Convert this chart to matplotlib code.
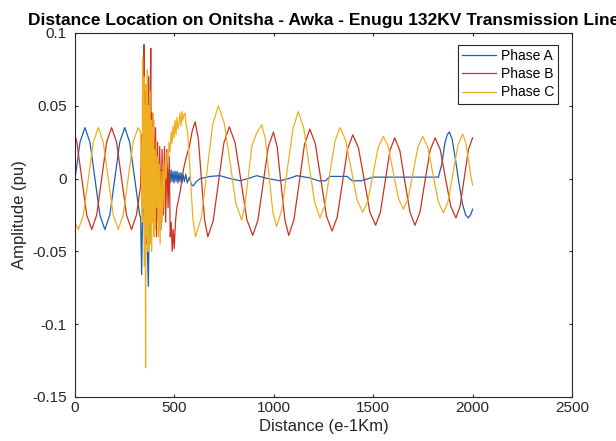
import matplotlib
matplotlib.use("Agg")
import matplotlib.pyplot as plt

plt.rcParams['font.family'] = ['Liberation Sans', 'DejaVu Sans']

# Phase A
dist_a = [0, 25, 50, 75, 100, 125, 150, 175, 200, 225, 250, 275, 300, 325,
          330, 335, 340, 345, 350, 355, 360, 364, 369, 374, 378, 383, 388, 393, 398, 403,
          408, 413, 418, 423, 428, 433, 438, 443, 448, 453, 458, 463, 468, 473, 478, 483,
          488, 493, 498, 503, 508, 513, 518, 523, 528, 533, 538, 543, 550, 557, 565, 575,
          585, 595, 610,
          630, 680, 729, 780, 830, 870, 914, 970, 1031, 1075, 1115, 1180, 1225, 1260, 1283,
          1368, 1395, 1440, 1500, 1828, 1845, 1860, 1872, 1883, 1897, 1915, 1930, 1950,
          1965, 1979, 1993, 2000]
amp_a = [0.000, 0.025, 0.035, 0.025, 0.000, -0.025, -0.035, -0.025, 0.000, 0.025, 0.035, 0.025, 0.000, -0.025,
         -0.027, -0.066, -0.020, 0.005, -0.045, -0.010, 0.010, -0.050, -0.074, -0.010, 0.004, -0.025, -0.030, 0.000, 0.008, -0.018,
         -0.012, 0.006, -0.008, 0.005, -0.006, 0.006, -0.004, 0.007, -0.003, 0.006, -0.004, 0.007, -0.002, 0.006, -0.003, 0.006,
         -0.002, 0.005, -0.003, 0.005, -0.002, 0.005, -0.003, 0.004, -0.002, 0.004, -0.003, 0.003, -0.002, 0.003, -0.003, 0.001,
         -0.004, -0.005, -0.002,
         0.000, 0.0015, 0.002, 0.000, -0.0015, 0.000, 0.002, 0.000, -0.0015, 0.000, 0.002, 0.0005, -0.0015, -0.0015, 0.0015,
         0.0015, -0.0015, -0.0015, 0.001, 0.001, 0.010, 0.024, 0.030, 0.032, 0.027, 0.012, -0.002, -0.018,
         -0.025, -0.027, -0.024, -0.021]

# Phase B
dist_b = [0, 9, 34, 59, 84, 109, 134, 159, 184, 209, 234, 259, 284, 309, 330,
          335, 339, 343, 347, 350, 354, 358, 362, 366, 370, 374, 378, 381, 384, 388, 392,
          396, 400, 405, 410, 415, 420, 426, 432, 438, 444, 450, 456, 462, 468, 474, 479,
          484, 489, 494, 499, 505, 512, 520, 530, 545, 560, 575, 590,
          604, 620, 636, 652, 668, 695, 722, 749, 776, 805, 835, 864, 894, 920, 946, 972,
          998, 1017, 1036, 1056, 1075, 1101, 1128, 1154, 1181, 1209, 1237, 1265, 1293, 1319,
          1345, 1371, 1397, 1426, 1455, 1483, 1512, 1536, 1560, 1584, 1608, 1634, 1659, 1685,
          1710, 1735, 1760, 1786, 1811, 1837, 1863, 1890, 1916, 1937, 1958, 1979, 2000]
amp_b = [0.030, 0.025, 0.000, -0.025, -0.035, -0.025, 0.000, 0.025, 0.035, 0.025, 0.000, -0.025, -0.035, -0.025, -0.005,
         0.030, -0.020, 0.050, 0.092, -0.035, 0.060, -0.045, 0.065, -0.030, 0.070, -0.020, 0.050, 0.0895, -0.025, 0.045, -0.030,
         0.040, -0.025, 0.035, -0.040, 0.025, -0.030, 0.022, -0.035, 0.020, -0.025, 0.022, -0.030, 0.020, -0.020, 0.015, -0.040,
         -0.030, -0.050, -0.035, -0.048, -0.030, -0.020, -0.015, -0.008, 0.006, 0.015, 0.022, 0.033,
         0.039, 0.0275, -0.0005, -0.0285, -0.040, -0.029, -0.002, 0.0246, 0.0356, 0.0247, -0.0017, -0.028, -0.039, -0.0286, -0.0035, 0.0216,
         0.032, 0.0216, -0.0035, -0.0286, -0.039, -0.0283, -0.0025, 0.0233, 0.034, 0.0238, -0.001, -0.0258, -0.036, -0.0264,
         -0.003, 0.0204, 0.030, 0.021, -0.001, -0.023, -0.032, -0.0232, -0.002, 0.0192, 0.028, 0.0192, -0.002, -0.0232,
         -0.032, -0.0232, -0.002, 0.0192, 0.028, 0.020, 0.0005, -0.019, -0.027, -0.019, 0.0005, 0.020, 0.028]

# Phase C
dist_c = [0, 17, 42, 67, 92, 117, 142, 167, 192, 217, 242, 267, 292, 317, 330,
          334, 337, 340, 343, 346, 349, 352, 355, 358, 361, 364, 367, 370, 373, 376, 379,
          382, 385, 388, 391, 394, 397, 400, 404, 408, 412, 416, 420, 424, 428, 433, 438,
          443, 448, 453, 458, 463, 468, 473, 478, 483, 488, 493, 498, 503, 508, 513, 518,
          523, 528, 533, 538, 543, 548, 553, 558,
          566, 580, 593, 606, 635, 664, 692, 721, 750, 780, 809, 838, 855, 872, 889, 910,
          925, 939, 958, 976, 995, 1014, 1041, 1068, 1096, 1123, 1150, 1177, 1205, 1232,
          1257, 1282, 1308, 1333, 1361, 1390, 1418, 1447, 1473, 1499, 1525, 1551, 1576,
          1601, 1627, 1652, 1676, 1700, 1725, 1749, 1775, 1801, 1827, 1853, 1877, 1901,
          1926, 1950, 1965, 1980, 1990, 2000]
amp_c = [-0.030, -0.035, -0.025, 0.000, 0.025, 0.035, 0.025, 0.000, -0.025, -0.035, -0.025, 0.000, 0.025, 0.035, 0.032,
         0.000, -0.030, 0.083, -0.020, 0.070, -0.060, 0.050, -0.130, 0.065, -0.040, 0.075, -0.050, 0.050, -0.030, 0.060, -0.045,
         0.040, -0.050, 0.035, -0.030, 0.045, -0.040, 0.020, -0.035, 0.025, -0.020, 0.015, -0.040, 0.010, -0.045, 0.005, -0.030,
         0.010, -0.020, 0.012, 0.000, 0.018, 0.012, 0.025, 0.018, 0.032, 0.024, 0.036, 0.028, 0.040, 0.030, 0.042, 0.034,
         0.038, 0.045, 0.036, 0.046, 0.040, 0.044, 0.045, 0.038,
         0.032, 0.002, -0.028, -0.040, -0.027, 0.005, 0.037, 0.050, 0.0385, 0.011, -0.017, -0.0285, -0.018, 0.002, 0.022, 0.030,
         0.034, 0.037, 0.027, 0.002, -0.023, -0.033, -0.021, 0.0065, 0.034, 0.046, 0.035, 0.0095, -0.016, -0.027,
         -0.018, 0.004, 0.026, 0.035, 0.0265, 0.006, -0.0145, -0.023, -0.0154, 0.003, 0.0214, 0.029, 0.0217,
         0.004, -0.0137, -0.021, -0.0137, 0.004, 0.0217, 0.029, 0.0213, 0.0028, -0.0157, -0.0235, -0.0156, 0.0036,
         0.0227, 0.0306, 0.025, 0.012, 0.003, -0.0045]

x_ticks = [0, 500, 1000, 1500, 2000, 2500]
y_ticks = [-0.15, -0.1, -0.05, 0, 0.05, 0.1]
y_tick_labels = ['-0.15', '-0.1', '-0.05', '0', '0.05', '0.1']

fig = plt.figure(figsize=(6.16, 4.41), dpi=100)
ax = fig.add_axes([0.1218, 0.0998, 0.8068, 0.8254])

ax.plot(dist_a, amp_a, color='#1f5fb0', lw=0.9, label='Phase A')
ax.plot(dist_b, amp_b, color='#cc3322', lw=0.9, label='Phase B')
ax.plot(dist_c, amp_c, color='#eeb020', lw=0.9, label='Phase C')

ax.set_xlim(0, 2500)
ax.set_ylim(-0.15, 0.1)
ax.set_xticks(x_ticks)
ax.set_xticklabels([str(t) for t in x_ticks])
ax.set_yticks(y_ticks)
ax.set_yticklabels(y_tick_labels)
ax.tick_params(direction='in', length=2.5, width=0.8, colors='#262626',
               labelsize=11, top=True, right=True)
ax.tick_params(axis='y', pad=6)
ax.tick_params(axis='x', pad=3)
for s in ax.spines.values():
    s.set_color('#262626')
    s.set_linewidth(0.8)

ax.set_title('Distance Location on Onitsha - Awka - Enugu 132KV Transmission Line',
             fontsize=12.5, fontweight='bold', pad=6)
ax.set_xlabel('Distance (e-1Km)', fontsize=12, color='#262626', labelpad=3)
ax.set_ylabel('Amplitude (pu)', fontsize=12, color='#262626', labelpad=4)

leg = ax.legend(loc='upper right', bbox_to_anchor=(558 / 616, 1 - 45 / 441),
                bbox_transform=fig.transFigure, borderaxespad=0, fontsize=10,
                handlelength=2.5, handletextpad=0.3, labelspacing=0.3,
                borderpad=0.3, fancybox=False, framealpha=1, edgecolor='#262626')
leg.get_frame().set_linewidth(0.8)

fig.savefig('out.png', dpi=100)
